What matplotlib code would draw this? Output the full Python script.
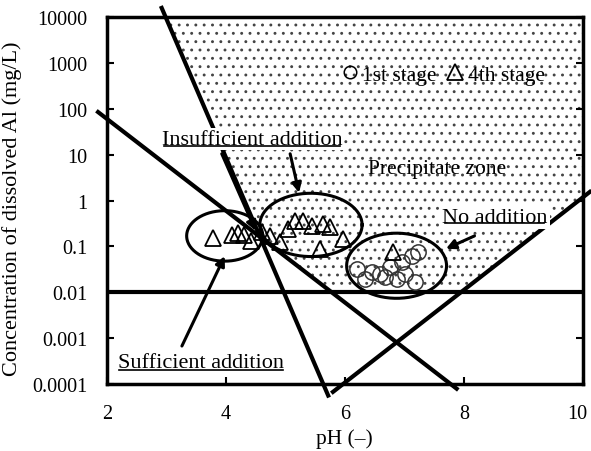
import numpy as np
import matplotlib
matplotlib.use("Agg")
import matplotlib.pyplot as plt
import matplotlib.transforms as mtransforms
from matplotlib.lines import Line2D

plt.rcParams['font.family'] = ['Liberation Serif', 'DejaVu Serif']
plt.rcParams['hatch.linewidth'] = 0.9

# solubility lines (pH, log10 C) endpoints, they run a bit past the frame
steep_ph = [2.92, 5.72]
steep_logc = [4.20, -4.25]
slope1_ph = [1.85, 7.88]
slope1_logc = [1.93, -4.10]
rising_ph = [5.80, 10.12]
rising_logc = [-4.17, 0.19]
limit_c = 0.01

# 1st stage (circles)
c1_ph = [6.20, 6.34, 6.45, 6.59, 6.67, 6.76, 6.87, 6.96, 7.01, 7.13, 7.18, 7.23]
c1_c = [0.032, 0.0195, 0.028, 0.025, 0.022, 0.035, 0.020, 0.046, 0.025, 0.062, 0.017, 0.076]
# 4th stage (triangles)
c4_ph = [3.78, 4.10, 4.20, 4.30, 4.42, 4.60, 4.74, 4.91, 5.04, 5.16, 5.29, 5.45,
         5.58, 5.63, 5.75, 5.97, 6.81]
c4_c = [0.153, 0.178, 0.195, 0.18, 0.13, 0.21, 0.17, 0.126, 0.24, 0.36, 0.36, 0.28,
        0.089, 0.31, 0.26, 0.144, 0.076]

# ellipses: centre pH, centre log10 C, half width (pH), half height (decades)
ell_ph = [3.98, 5.43, 6.87]
ell_logc = [-0.77, -0.53, -1.42]
ell_a = [0.64, 0.86, 0.84]
ell_b = [0.55, 0.69, 0.71]

yticks = [1e-4, 1e-3, 1e-2, 1e-1, 1, 10, 100, 1000, 10000]
ytick_labels = ['0.0001', '0.001', '0.01', '0.1', '1', '10', '100', '1000', '10000']


def line_fn(xs, ys):
    k = (ys[1] - ys[0]) / (xs[1] - xs[0])
    return lambda p: ys[0] + k * (p - xs[0])


fig = plt.figure(figsize=(5.91, 4.52), dpi=100)
ax = fig.add_axes([0.181, 0.148, 0.805, 0.812])
ax.set_xlim(2, 10)
ax.set_yscale('log')
ax.set_ylim(1e-4, 1e4)

# precipitate zone
ph = np.linspace(2, 10, 801)
lower = np.maximum.reduce([line_fn(steep_ph, steep_logc)(ph),
                           line_fn(slope1_ph, slope1_logc)(ph),
                           line_fn(rising_ph, rising_logc)(ph),
                           np.full_like(ph, np.log10(limit_c))])
ax.fill_between(ph, 10**lower, 1e4, facecolor='white', hatch='..',
                edgecolor='#444444', linewidth=0, zorder=0)

lw = 3.0
ax.plot(steep_ph, 10**np.array(steep_logc), color='black', lw=lw, clip_on=False, zorder=3)
ax.plot(slope1_ph, 10**np.array(slope1_logc), color='black', lw=lw, clip_on=False, zorder=3)
ax.plot(rising_ph, 10**np.array(rising_logc), color='black', lw=lw, clip_on=False, zorder=3)
ax.axhline(limit_c, color='black', lw=lw, zorder=3)

t = np.linspace(0, 2 * np.pi, 200)
for cx, cy, a, b in zip(ell_ph, ell_logc, ell_a, ell_b):
    ax.plot(cx + a * np.cos(t), 10**(cy + b * np.sin(t)), color='black', lw=2.2, zorder=4)

ax.plot(c1_ph, c1_c, 'o', ms=11, mfc='none', mec='#333333', mew=1.1, zorder=5)
ax.plot(c4_ph, c4_c, '^', ms=11, mfc='none', mec='black', mew=1.3, zorder=5)

# labels
fs = 16
arrow = dict(arrowstyle='-|>', color='black', lw=2.2, mutation_scale=14, shrinkA=0, shrinkB=0)
txt_ins = ax.text(4.44, 10**1.34, 'Insufficient addition', ha='center', va='center', fontsize=fs,
                  bbox=dict(facecolor='white', edgecolor='none', pad=1), zorder=6)
ax.annotate('', xy=(4.50, 10**-0.66), xytext=(3.93, 10**1.02), arrowprops=arrow, zorder=6)
ax.annotate('', xy=(5.23, 10**0.17), xytext=(5.08, 10**1.02), arrowprops=arrow, zorder=6)

txt_suf = ax.text(3.58, 10**-3.52, 'Sufficient addition', ha='center', va='center', fontsize=fs, zorder=6)
ax.annotate('', xy=(3.98, 10**-1.21), xytext=(3.26, 10**-3.17), arrowprops=arrow, zorder=6)

txt_no = ax.text(8.52, 10**-0.36, 'No addition', ha='center', va='center', fontsize=fs,
                 bbox=dict(facecolor='white', edgecolor='none', pad=2), zorder=6)
ax.annotate('', xy=(7.70, 10**-1.05), xytext=(8.18, 10**-0.77), arrowprops=arrow, zorder=6)

ax.text(7.55, 10**0.69, 'Precipitate zone', ha='center', va='center', fontsize=fs - 0.5, zorder=6)

handles = [Line2D([], [], ls='none', marker='o', ms=9, mfc='none', mec='black', mew=1.1),
           Line2D([], [], ls='none', marker='^', ms=11, mfc='none', mec='black', mew=1.3)]
ax.legend(handles, ['1st stage', '4th stage'], ncol=2, frameon=False, loc='center',
          bbox_to_anchor=(7.66, 10**2.74), bbox_transform=ax.transData, fontsize=fs - 0.5,
          handlelength=0.7, handletextpad=0.25, columnspacing=0.5, borderpad=0)

ax.set_yticks(yticks)
ax.set_yticklabels(ytick_labels)
ax.yaxis.set_minor_locator(matplotlib.ticker.NullLocator())
ax.set_xticks([2, 4, 6, 8, 10])
ax.tick_params(direction='in', length=5, width=1.5, labelsize=14.5, right=True, top=False)
ax.tick_params(axis='y', pad=14)
ax.tick_params(axis='x', pad=14)
for s in ax.spines.values():
    s.set_linewidth(2.5)
    s.set_zorder(7)

ax.set_xlabel('pH (\u2013)', fontsize=15.5, labelpad=4)
ax.set_ylabel('Concentration of dissolved Al (mg/L)', fontsize=16)
ax.yaxis.set_label_coords(-0.178, 0.48)

# keep the last x tick label inside the figure
last = ax.get_xticklabels()[-1]
last.set_transform(last.get_transform() + mtransforms.ScaledTranslation(-4 / 72, 0, fig.dpi_scale_trans))

# underline the three annotation labels
fig.canvas.draw()
inv = fig.transFigure.inverted()
for tx in [txt_ins, txt_suf, txt_no]:
    bb = tx.get_window_extent()
    pad = 2 if tx is txt_ins else (3 if tx is txt_no else 1)
    (x0, y0), (x1, _) = inv.transform([[bb.x0 + pad, bb.y0 + pad + 1], [bb.x1 - pad, bb.y1]])
    fig.add_artist(Line2D([x0, x1], [y0, y0], color='black', lw=1.2, transform=fig.transFigure))

fig.savefig('out.png', dpi=100)
